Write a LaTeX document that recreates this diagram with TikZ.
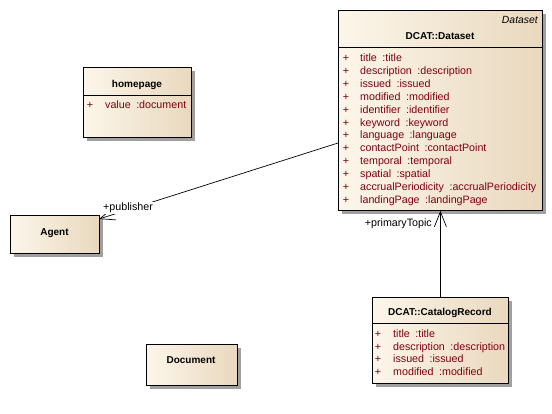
\documentclass[tikz,border=0pt]{standalone}
\usepackage{fontspec}
\setmainfont{Liberation Sans}
\usetikzlibrary{arrows.meta,shadows}
\definecolor{attr}{RGB}{128,0,16}
\definecolor{fillL}{RGB}{252,246,234}
\definecolor{fillR}{RGB}{233,216,190}
\definecolor{shad}{RGB}{160,160,160}
\newcommand{\attrgap}{\hspace{5.5pt}}
\tikzset{
  classbox/.style={draw=black, line width=0.8pt, anchor=north west, inner sep=0pt,
    left color=fillL, right color=fillR,
    general shadow={fill=shad, shadow xshift=3.5pt, shadow yshift=-3.5pt}},
  ttl/.style={font=\fontsize{10}{12}\selectfont\bfseries, inner sep=0pt, anchor=base},
  stereo/.style={font=\fontsize{10.4}{12}\selectfont\itshape, inner sep=0pt, anchor=base east},
  plus/.style={font=\fontsize{10.7}{12}\selectfont, text=attr, inner sep=0pt, anchor=base},
  attrtxt/.style={font=\fontsize{10.7}{12}\selectfont, text=attr, inner sep=0pt, anchor=base west},
  role/.style={font=\fontsize{10.7}{12}\selectfont, inner sep=1pt, fill=white},
  assoc/.style={line width=0.7pt, -{Straight Barb[length=15pt,width=12pt,line width=0.7pt]}},
  sep/.style={line width=0.8pt}
}
\begin{document}
\begin{tikzpicture}[x=1pt,y=-1pt]
\useasboundingbox[fill=white] (0,0) rectangle (552,413);

% ---------- DCAT::Dataset ----------
\node[classbox, minimum width=204pt, minimum height=200pt] (dataset) at (338,10) {};
\draw[sep] (338,47) -- (542,47);
\node[stereo] (dsst) at (538,23.5) {Dataset};
\node[ttl] (dstitle) at (440,39.5) {DCAT::Dataset};
\foreach \i/\a in {0/{title\attrgap:title},1/{description\attrgap:description},2/{issued\attrgap:issued},
  3/{modified\attrgap:modified},4/{identifier\attrgap:identifier},5/{keyword\attrgap:keyword},
  6/{language\attrgap:language},7/{contactPoint\attrgap:contactPoint},8/{temporal\attrgap:temporal},
  9/{spatial\attrgap:spatial},10/{accrualPeriodicity\attrgap:accrualPeriodicity},11/{landingPage\attrgap:landingPage}}{
  \node[plus] (dsp\i) at (346,61.5+12.9*\i) {+};
  \node[attrtxt] (dsa\i) at (360,61.5+12.9*\i) {\a};
}

% ---------- homepage ----------
\node[classbox, minimum width=108pt, minimum height=70pt] (homepage) at (83,67) {};
\draw[sep] (83,95) -- (191,95);
\node[ttl] (hptitle) at (137,87.5) {homepage};
\node[plus] (hpp) at (90,108.5) {+};
\node[attrtxt] (hpa) at (105,108.5) {value\attrgap:document};

% ---------- Agent ----------
\node[classbox, minimum width=89pt, minimum height=38pt] (agent) at (10,215) {};
\node[ttl] (agtitle) at (54.5,235.5) {Agent};

% ---------- Document ----------
\node[classbox, minimum width=91pt, minimum height=41pt] (document) at (146,344) {};
\node[ttl] (doctitle) at (191,363.5) {Document};

% ---------- DCAT::CatalogRecord ----------
\node[classbox, minimum width=136pt, minimum height=86pt] (catrec) at (372,297) {};
\draw[sep] (372,323) -- (508,323);
\node[ttl] (crtitle) at (440,315.5) {DCAT::CatalogRecord};
\foreach \i/\a in {0/{title\attrgap:title},1/{description\attrgap:description},2/{issued\attrgap:issued},3/{modified\attrgap:modified}}{
  \node[plus] (crp\i) at (378,337.5+12.7*\i) {+};
  \node[attrtxt] (cra\i) at (393,337.5+12.7*\i) {\a};
}

% ---------- connectors ----------
\coordinate (dsleft) at (338,143);
\coordinate (agtip) at (99,219);
\draw[assoc] (dsleft) -- (agtip);
\node[role, anchor=west] (publisher) at (102,208) {+publisher};

\draw[assoc] (catrec.north) -- (catrec.north |- dataset.south);
\node[role, anchor=east] (primtopic) at (433,224) {+primaryTopic};
\end{tikzpicture}
\end{document}
